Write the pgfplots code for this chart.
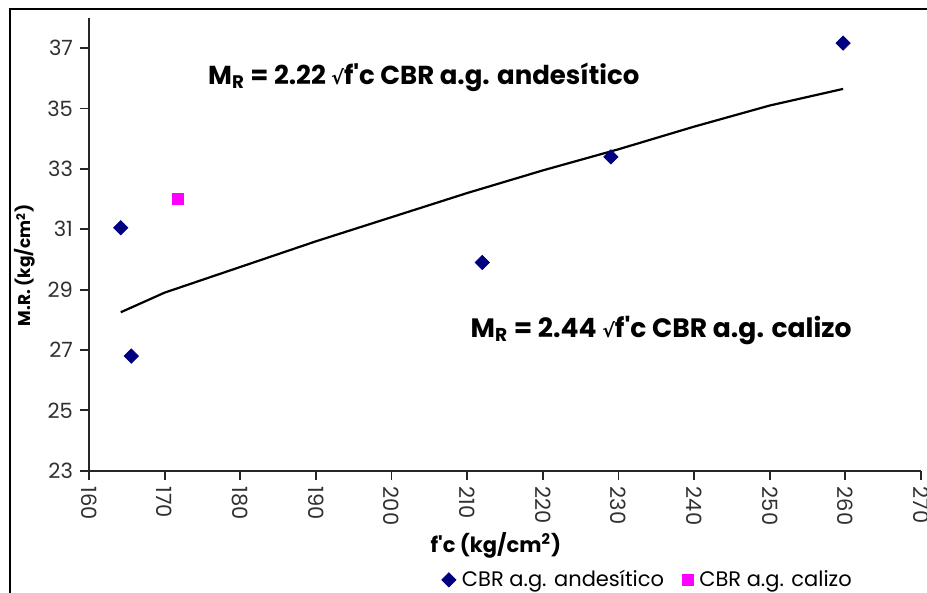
\documentclass[border=0pt]{standalone}
\usepackage{fontspec}
\setmainfont{Poppins}[Ligatures=TeXOff]
\newfontfamily\symfont{DejaVu Sans}
\usepackage{pgfplots}
\pgfplotsset{compat=1.18}
\definecolor{navyd}{HTML}{000080}
\definecolor{magsq}{HTML}{FF00FF}
\definecolor{tickgray}{HTML}{303030}
\newcommand{\ap}{'}
\begin{document}
\begin{tikzpicture}[x=1pt,y=1pt]
\path[use as bounding box] (0,0) rectangle (463.5,296.5);
\draw[line width=1.1pt] (5,0) -- (5,292) -- (463.5,292);
\begin{axis}[
  at={(44.5pt,61.15pt)}, anchor=south west,
  scale only axis, width=416pt, height=226.35pt,
  xmin=160, xmax=270, ymin=23, ymax=38,
  xtick={160,170,...,270}, ytick={23,25,...,37},
  axis lines*=left,
  axis line style={line width=0.9pt, color=black!85},
  tick style={line width=0.9pt, color=black!85},
  tick align=outside, major tick length=4.5pt,
  /pgf/number format/assume math mode=true,
  ticklabel style={font=\fontsize{10.5}{12}\selectfont, text=tickgray},
  x tick label style={rotate=-90, anchor=west},
  xlabel={\textbf{f\ap c (kg/cm\textsuperscript{2})}},
  xlabel style={at={(axis description cs:0.489,-0.164)}, anchor=center, font=\fontsize{10.5}{12}\selectfont},
  ylabel={\textbf{M.R. (kg/cm\textsuperscript{2})}},
  ylabel style={at={(axis description cs:-0.077,0.454)}, anchor=center, font=\fontsize{8.5}{10}\selectfont},
  legend columns=2,
  legend style={draw=none, fill=none, at={(axis description cs:0.674,-0.241)}, anchor=center,
    font=\fontsize{10.5}{12}\selectfont, /tikz/every even column/.append style={column sep=6pt},
    nodes={inner xsep=3pt}},
  legend cell align=left,
  clip=false,
]
\addplot[only marks, mark=square*, mark options={rotate=45}, mark size=2.5pt, color=navyd] coordinates {
(164.2,31.05) (165.6,26.8) (212.0,29.9) (229.0,33.4) (259.7,37.17)
};
\addlegendentry{CBR a.g. andesítico}
\addplot[only marks, mark=square*, mark size=2.8pt, color=magsq] coordinates {
(171.8,32.0)
};
\addlegendentry{CBR a.g. calizo}
\addplot[black, line width=1.1pt, forget plot] coordinates {
(164.2,28.25) (170,28.9) (180,29.75) (190,30.6) (200,31.4) (210,32.2) (220,32.95) (230,33.65) (240,34.4) (250,35.1) (259.7,35.65)
};
\node[anchor=west, font=\fontsize{13}{15}\selectfont\bfseries, inner sep=0pt] at (axis cs:175.7,36.05)
  {M\textsubscript{R} = 2.22 {\symfont\fontsize{9.5}{10}\selectfont √}f\ap c CBR a.g. andesítico};
\node[anchor=west, font=\fontsize{13.3}{15}\selectfont\bfseries, inner sep=0pt] at (axis cs:210.4,27.66)
  {M\textsubscript{R} = 2.44 {\symfont\fontsize{9.5}{10}\selectfont √}f\ap c CBR a.g. calizo};
\end{axis}
\end{tikzpicture}
\end{document}
